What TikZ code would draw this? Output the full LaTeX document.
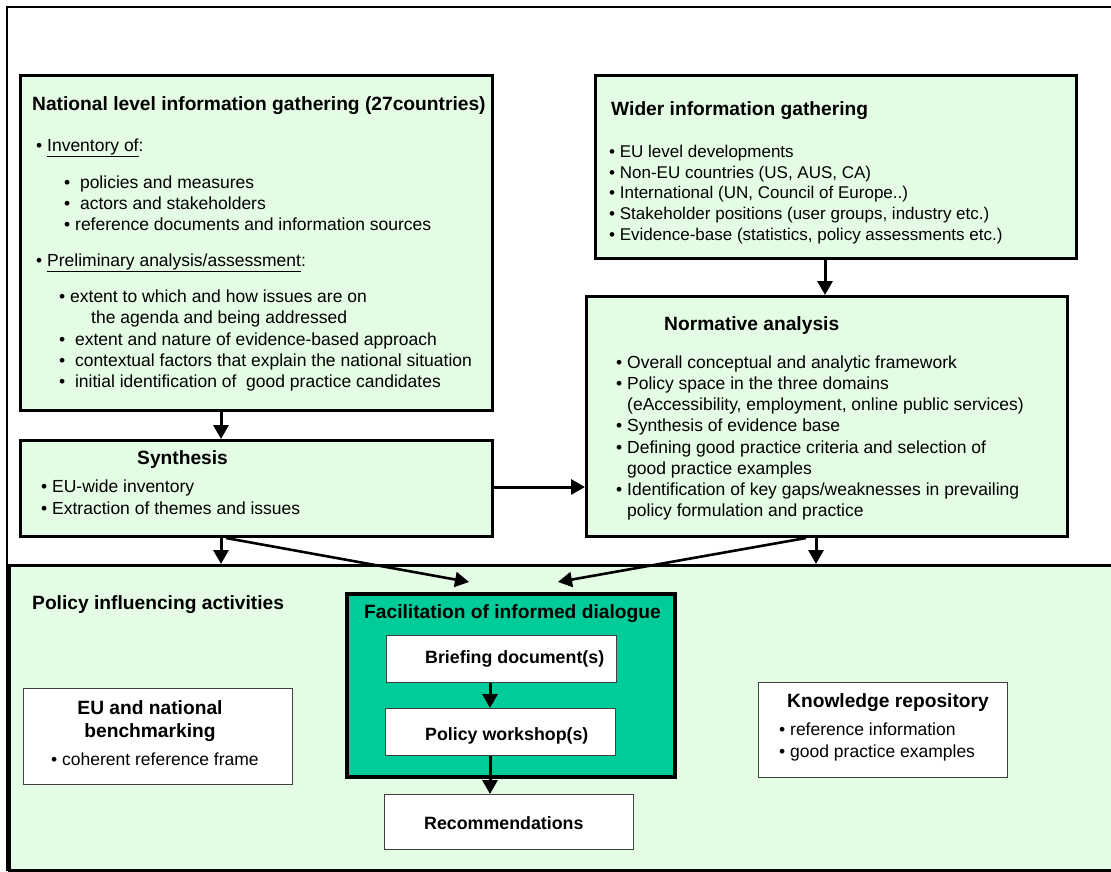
\documentclass[tikz,border=0pt]{standalone}
\usepackage{fontspec}
\setmainfont{Liberation Sans}
\usetikzlibrary{arrows.meta,calc}
\definecolor{mint}{RGB}{228,251,228}
\definecolor{dialoguegreen}{RGB}{0,204,153}
\newcommand\bodyfont{\fontsize{17.5pt}{21pt}\selectfont}
\newcommand\smallbodyfont{\fontsize{17pt}{21pt}\selectfont}
\newcommand\headfont{\fontsize{19.2pt}{23pt}\selectfont\bfseries}
\newcommand\innerfont{\fontsize{17.8pt}{21pt}\selectfont\bfseries}
\newcommand\ul[1]{\underline{#1}}
\tikzset{
  panel/.style={draw, line width=3pt, fill=mint, rectangle, anchor=north west, inner sep=0pt},
  whitebox/.style={draw=black!75, line width=1.3pt, fill=white, rectangle, anchor=north west, inner sep=0pt},
  txt/.style={anchor=base west, inner sep=0pt, font=\bodyfont},
  wtxt/.style={anchor=base west, inner sep=0pt, font=\smallbodyfont},
  head/.style={anchor=base west, inner sep=0pt, font=\headfont},
  inner/.style={anchor=base west, inner sep=0pt, font=\innerfont},
  arr/.style={line width=3pt, -{Triangle[width=15pt,length=14pt]}},
}
\begin{document}
\begin{tikzpicture}[x=1pt, y=-1pt]
\useasboundingbox (0,0) rectangle (1111,871);
\fill[white] (0,0) rectangle (1111,871);

% lower band: policy influencing activities
\node[panel, minimum width=1120pt, minimum height=305pt] (pol) at (8,564) {};
\node[head] (polT) at (32,609) {Policy influencing activities};

% outer frame
\draw[line width=2.5pt] (1125,7) -- (7,7) -- (7,871);

% national level information gathering
\node[panel, minimum width=472pt, minimum height=335pt] (nat) at (19,74) {};
\node[head] (natT) at (32,110) {National level information gathering (27countries)};
\node[txt] (natA) at (36,151) {• \ul{Inventory of}:};
\node[txt] (natA1) at (64,188) {•\ \ policies and measures};
\node[txt] (natA2) at (64,209) {•\ \ actors and stakeholders};
\node[txt] (natA3) at (64,230) {• reference documents and information sources};
\node[txt] (natB) at (36,266) {• \ul{Preliminary analysis/assessment}:};
\node[txt] (natB1) at (59,302) {• extent to which and how issues are on};
\node[txt] (natB1b) at (91,323) {the agenda and being addressed};
\node[txt] (natB2) at (59,345) {•\ \ extent and nature of evidence-based approach};
\node[txt] (natB3) at (59,366) {•\ \ contextual factors that explain the national situation};
\node[txt] (natB4) at (59,387) {•\ \ initial identification of\ \ good practice candidates};

% wider information gathering
\node[panel, minimum width=481pt, minimum height=183pt] (wid) at (594,74) {};
\node[head] (widT) at (611,115) {Wider information gathering};
\node[wtxt] (wid1) at (609,157) {• EU level developments};
\node[wtxt] (wid2) at (609,178) {• Non-EU countries (US, AUS, CA)};
\node[wtxt] (wid3) at (609,198) {• International (UN, Council of Europe..)};
\node[wtxt] (wid4) at (609,219) {• Stakeholder positions (user groups, industry etc.)};
\node[wtxt] (wid5) at (609,240) {• Evidence-base (statistics, policy assessments etc.)};

% normative analysis
\node[panel, minimum width=481pt, minimum height=240pt] (nor) at (585,295) {};
\node[head] (norT) at (664,330) {Normative analysis};
\node[txt] (nor1) at (616,368) {• Overall conceptual and analytic framework};
\node[txt] (nor2) at (616,389) {• Policy space in the three domains};
\node[txt] (nor2b) at (616,410) {\phantom{• }(eAccessibility, employment, online public services)};
\node[txt] (nor3) at (616,431) {• Synthesis of evidence base};
\node[txt] (nor4) at (616,453) {• Defining good practice criteria and selection of};
\node[txt] (nor4b) at (616,474) {\phantom{• }good practice examples};
\node[txt] (nor5) at (616,495) {• Identification of key gaps/weaknesses in prevailing};
\node[txt] (nor5b) at (616,516) {\phantom{• }policy formulation and practice};

% synthesis
\node[panel, minimum width=472pt, minimum height=96pt] (syn) at (19,439) {};
\node[head] (synT) at (137,464) {Synthesis};
\node[txt] (syn1) at (41,492) {• EU-wide inventory};
\node[txt] (syn2) at (41,514) {• Extraction of themes and issues};

% facilitation of informed dialogue
\node[draw, line width=3.5pt, fill=dialoguegreen, rectangle, anchor=north west, inner sep=0pt,
      minimum width=328pt, minimum height=183pt] (fac) at (345,592) {};
\node[head] (facT) at (364,618) {Facilitation of informed dialogue};
\node[whitebox, minimum width=230pt, minimum height=47pt] (brf) at (386,635) {};
\node[inner] (brfT) at (425,663) {Briefing document(s)};
\node[whitebox, minimum width=230pt, minimum height=47pt] (wks) at (385,708) {};
\node[inner] (wksT) at (425,740) {Policy workshop(s)};
\node[whitebox, minimum width=249pt, minimum height=55pt] (rec) at (384,794) {};
\node[inner] (recT) at (424,829) {Recommendations};

% benchmarking
\node[whitebox, minimum width=269pt, minimum height=96pt] (ben) at (23,688) {};
\node[anchor=base, inner sep=0pt, font=\headfont] (benT1) at (150,714) {EU and national};
\node[anchor=base, inner sep=0pt, font=\headfont] (benT2) at (150,737) {benchmarking};
\node[txt] (ben1) at (51,765) {• coherent reference frame};

% knowledge repository
\node[whitebox, minimum width=249pt, minimum height=95pt] (kno) at (758,682) {};
\node[head] (knoT) at (787,707) {Knowledge repository};
\node[txt] (kno1) at (779,735) {• reference information};
\node[txt] (kno2) at (779,757) {• good practice examples};

% connectors
\coordinate (xa) at (221,0);
\coordinate (xb) at (825,0);
\coordinate (yc) at (0,487);
\coordinate (xd) at (816,0);
\coordinate (xe) at (226,0);
\coordinate (xf) at (806,0);
\coordinate (xg) at (490,0);
\coordinate (t1) at (469,582);
\coordinate (t2) at (558,582);
\draw[arr] (nat.south -| xa) -- (syn.north -| xa);
\draw[arr] (syn.south -| xa) -- (pol.north -| xa);
\draw[arr] (wid.south -| xb) -- (nor.north -| xb);
\draw[arr] (syn.east |- yc) -- (nor.west |- yc);
\draw[arr] (nor.south -| xd) -- (pol.north -| xd);
\draw[arr, line width=2.6pt] (syn.south -| xe) -- (t1);
\draw[arr, line width=2.6pt] (nor.south -| xf) -- (t2);
\draw[arr] (brf.south -| xg) -- (wks.north -| xg);
\draw[arr] (wks.south -| xg) -- (rec.north -| xg);
\end{tikzpicture}
\end{document}
